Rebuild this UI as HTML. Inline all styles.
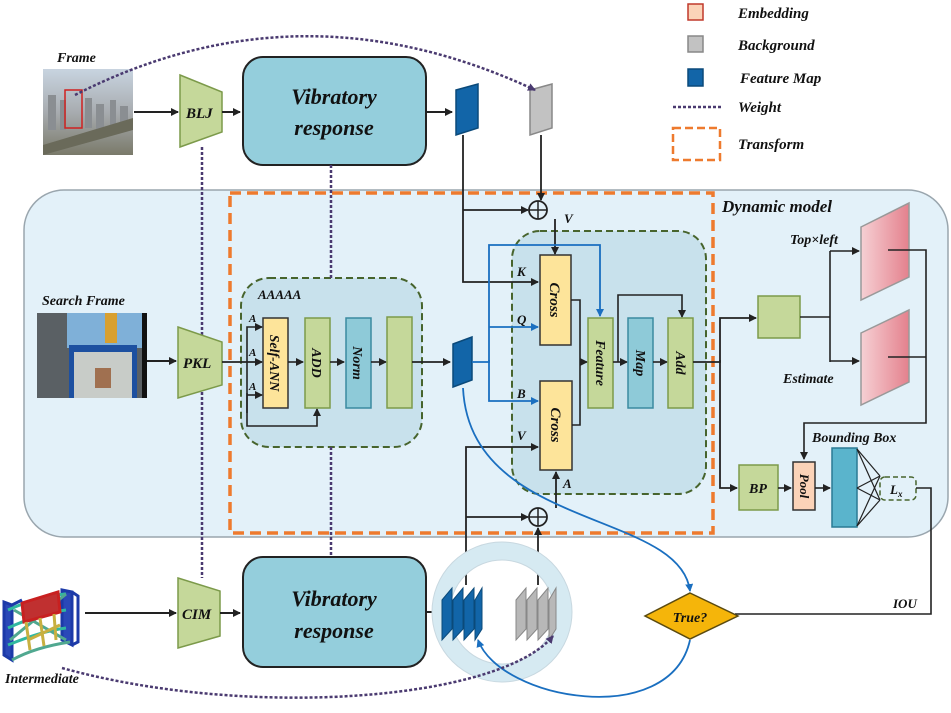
<!DOCTYPE html>
<html><head><meta charset="utf-8"><style>
html,body{margin:0;padding:0;background:#fff}
svg text{font-family:"Liberation Serif",serif;font-style:italic;font-weight:bold;fill:#111}
</style></head><body>
<svg width="951" height="708" viewBox="0 0 951 708" xmlns="http://www.w3.org/2000/svg">
<defs>
<marker id="a" markerWidth="8" markerHeight="8" refX="7" refY="4" orient="auto" markerUnits="userSpaceOnUse"><path d="M0,0 L8,4 L0,8 z" fill="#222"/></marker>
<marker id="b" markerWidth="8" markerHeight="8" refX="7" refY="4" orient="auto" markerUnits="userSpaceOnUse"><path d="M0,0 L8,4 L0,8 z" fill="#1a6fc0"/></marker>
<marker id="p" markerWidth="8" markerHeight="8" refX="7" refY="4" orient="auto" markerUnits="userSpaceOnUse"><path d="M0,0 L8,4 L0,8 z" fill="#4a3a70"/></marker>
<linearGradient id="pk" x1="0" x2="1"><stop offset="0" stop-color="#f6d0d4"/><stop offset="1" stop-color="#e4818d"/></linearGradient>
<linearGradient id="img1" x1="0" y1="0" x2="0" y2="1"><stop offset="0" stop-color="#c8d4e0"/><stop offset="0.5" stop-color="#a8acb0"/><stop offset="1" stop-color="#7a7a6a"/></linearGradient>
</defs>

<rect x="24" y="190" width="924" height="347" rx="40" fill="#e3f1f9" stroke="#9aa6ae" stroke-width="1.5"/>
<rect x="230" y="193" width="483" height="340" fill="none" stroke="#ee7a2e" stroke-width="3.5" stroke-dasharray="11,6"/>
<rect x="241" y="278" width="181" height="169" rx="28" fill="#c8e1ec" stroke="#47642d" stroke-width="2" stroke-dasharray="7,4"/>
<rect x="512" y="231" width="194" height="263" rx="28" fill="#c8e1ec" stroke="#47642d" stroke-width="2" stroke-dasharray="7,4"/>

<rect x="688" y="4" width="15" height="16" fill="#fbd3b8" stroke="#c0392b" stroke-width="1.5"/>
<text x="738" y="18" font-size="15">Embedding</text>
<rect x="688" y="36" width="15" height="16" fill="#c2c2c2" stroke="#888" stroke-width="1.5"/>
<text x="738" y="50" font-size="15">Background</text>
<rect x="688" y="69" width="15" height="17" fill="#1265a8" stroke="#0b4a7a" stroke-width="1.5"/>
<text x="740" y="83" font-size="15">Feature Map</text>
<line x1="673" y1="107" x2="722" y2="107" stroke="#4a3a70" stroke-width="2.5" stroke-dasharray="3,2"/>
<text x="738" y="112" font-size="15">Weight</text>
<rect x="673" y="128" width="47" height="32" fill="none" stroke="#ee7a2e" stroke-width="2.5" stroke-dasharray="8,4"/>
<text x="738" y="149" font-size="15">Transform</text>

<text x="57" y="62" font-size="14">Frame</text>
<rect x="43" y="69" width="90" height="86" fill="url(#img1)"/>
<g fill="#8a8e92"><rect x="48" y="95" width="8" height="35"/><rect x="60" y="100" width="6" height="30"/><rect x="85" y="98" width="7" height="30"/><rect x="96" y="104" width="8" height="26"/><rect x="110" y="100" width="6" height="30"/><rect x="120" y="106" width="8" height="24"/></g>
<polygon points="43,145 133,118 133,130 43,155" fill="#6a6a5a"/>
<rect x="65" y="90" width="17" height="38" fill="none" stroke="#d02020" stroke-width="1.5"/>
<line x1="134" y1="112" x2="178" y2="112" stroke="#222" stroke-width="2" marker-end="url(#a)"/>
<polygon points="180,75 222,92 222,132 180,147" fill="#c5d89a" stroke="#7c9a4a" stroke-width="1.5"/>
<text x="186" y="118" font-size="15">BLJ</text>
<line x1="222" y1="112" x2="240" y2="112" stroke="#222" stroke-width="2" marker-end="url(#a)"/>
<rect x="243" y="57" width="183" height="108" rx="20" fill="#94cedc" stroke="#222" stroke-width="2"/>
<text x="334" y="104" font-size="22" text-anchor="middle" font-weight="normal">Vibratory</text>
<text x="334" y="135" font-size="22" text-anchor="middle" font-weight="normal">response</text>
<line x1="426" y1="112" x2="452" y2="112" stroke="#222" stroke-width="2" marker-end="url(#a)"/>
<polygon points="456,90 478,84 478,128 456,135" fill="#1265a8" stroke="#0b4a7a" stroke-width="1.5"/>
<polygon points="530,90 552,84 552,128 530,135" fill="#c2c2c2" stroke="#888" stroke-width="1.5"/>
<path d="M75,95 Q300,-20 535,90" fill="none" stroke="#4a3a70" stroke-width="2.5" stroke-dasharray="3,2" marker-end="url(#p)"/>

<line x1="202" y1="147" x2="202" y2="578" stroke="#4a3a70" stroke-width="2.5" stroke-dasharray="3,2"/>
<line x1="331" y1="165" x2="331" y2="278" stroke="#4a3a70" stroke-width="2.5" stroke-dasharray="3,2"/>
<line x1="331" y1="447" x2="331" y2="557" stroke="#4a3a70" stroke-width="2.5" stroke-dasharray="3,2"/>

<polyline points="463,135 463,282 538,282" fill="none" stroke="#222" stroke-width="1.8" marker-end="url(#a)"/>
<line x1="463" y1="210" x2="528" y2="210" stroke="#222" stroke-width="1.8" marker-end="url(#a)"/>
<line x1="541" y1="135" x2="541" y2="200" stroke="#222" stroke-width="1.8" marker-end="url(#a)"/>
<circle cx="538" cy="210" r="9" fill="#e3f1f9" stroke="#222" stroke-width="1.8"/>
<line x1="529" y1="210" x2="547" y2="210" stroke="#222" stroke-width="1.5"/><line x1="538" y1="201" x2="538" y2="219" stroke="#222" stroke-width="1.5"/>
<line x1="555" y1="219" x2="555" y2="254" stroke="#222" stroke-width="1.8" marker-end="url(#a)"/>
<text x="564" y="223" font-size="13">V</text>

<text x="722" y="212" font-size="17">Dynamic model</text>

<text x="42" y="305" font-size="14">Search Frame</text>
<rect x="37" y="313" width="110" height="85" fill="#5a6064"/>
<rect x="67" y="313" width="75" height="35" fill="#7fb0d8"/>
<rect x="105" y="313" width="12" height="30" fill="#d8a030"/>
<rect x="69" y="345" width="68" height="53" fill="#1d50a0"/>
<rect x="74" y="352" width="58" height="46" fill="#c8ccc8"/>
<rect x="95" y="368" width="16" height="20" fill="#a07050"/>
<rect x="142" y="313" width="5" height="85" fill="#111"/>
<line x1="147" y1="361" x2="176" y2="361" stroke="#222" stroke-width="2" marker-end="url(#a)"/>
<polygon points="178,327 222,342 222,385 178,398" fill="#c5d89a" stroke="#7c9a4a" stroke-width="1.5"/>
<text x="183" y="368" font-size="15">PKL</text>
<line x1="222" y1="362" x2="262" y2="362" stroke="#222" stroke-width="1.8" marker-end="url(#a)"/>

<text x="258" y="299" font-size="13">AAAAA</text>
<polyline points="247,413 247,327 262,327" fill="none" stroke="#222" stroke-width="1.6" marker-end="url(#a)"/>
<line x1="247" y1="395" x2="262" y2="395" stroke="#222" stroke-width="1.6" marker-end="url(#a)"/>
<polyline points="247,393 247,426 317,426 317,409" fill="none" stroke="#222" stroke-width="1.6" marker-end="url(#a)"/>
<text x="249" y="322" font-size="11">A</text><text x="249" y="356" font-size="11">A</text><text x="249" y="390" font-size="11">A</text>
<rect x="263" y="318" width="25" height="90" fill="#fde49a" stroke="#333" stroke-width="1.5"/>
<text transform="translate(270,363) rotate(90)" font-size="14" text-anchor="middle">Self-ANN</text>
<line x1="288" y1="362" x2="303" y2="362" stroke="#222" stroke-width="1.6" marker-end="url(#a)"/>
<rect x="305" y="318" width="25" height="90" fill="#c5d89a" stroke="#7c9a4a" stroke-width="1.5"/>
<text transform="translate(312,363) rotate(90)" font-size="14" text-anchor="middle">ADD</text>
<line x1="330" y1="362" x2="344" y2="362" stroke="#222" stroke-width="1.6" marker-end="url(#a)"/>
<rect x="346" y="318" width="25" height="90" fill="#8ecad8" stroke="#3a8aa0" stroke-width="1.5"/>
<text transform="translate(353,363) rotate(90)" font-size="14" text-anchor="middle">Norm</text>
<line x1="371" y1="362" x2="386" y2="362" stroke="#222" stroke-width="1.6" marker-end="url(#a)"/>
<rect x="387" y="317" width="25" height="91" fill="#c5d89a" stroke="#7c9a4a" stroke-width="1.5"/>
<line x1="412" y1="362" x2="450" y2="362" stroke="#222" stroke-width="1.8" marker-end="url(#a)"/>
<polygon points="453,344 472,337 472,380 453,387" fill="#1265a8" stroke="#0b4a7a" stroke-width="1.5"/>

<polyline points="472,362 489,362 489,245 600,245 600,316" fill="none" stroke="#1a6fc0" stroke-width="1.8" marker-end="url(#b)"/>
<line x1="489" y1="327" x2="538" y2="327" stroke="#1a6fc0" stroke-width="1.8" marker-end="url(#b)"/>
<polyline points="489,360 489,401 538,401" fill="none" stroke="#1a6fc0" stroke-width="1.8" marker-end="url(#b)"/>
<text x="517" y="276" font-size="13">K</text><text x="517" y="324" font-size="13">Q</text><text x="517" y="398" font-size="13">B</text><text x="517" y="440" font-size="13">V</text><text x="563" y="488" font-size="13">A</text>

<rect x="540" y="255" width="31" height="90" fill="#fde49a" stroke="#333" stroke-width="1.5"/>
<text transform="translate(550,300) rotate(90)" font-size="15" text-anchor="middle" font-weight="normal">Cross</text>
<rect x="540" y="381" width="32" height="89" fill="#fde49a" stroke="#333" stroke-width="1.5"/>
<text transform="translate(551,425) rotate(90)" font-size="15" text-anchor="middle" font-weight="normal">Cross</text>
<polyline points="571,300 580,300 580,425 572,425" fill="none" stroke="#222" stroke-width="1.6"/>
<line x1="580" y1="362" x2="587" y2="362" stroke="#222" stroke-width="1.6" marker-end="url(#a)"/>
<rect x="588" y="318" width="25" height="90" fill="#c5d89a" stroke="#7c9a4a" stroke-width="1.5"/>
<text transform="translate(596,363) rotate(90)" font-size="14" text-anchor="middle">Feature</text>
<line x1="613" y1="362" x2="627" y2="362" stroke="#222" stroke-width="1.6" marker-end="url(#a)"/>
<polyline points="618,362 618,295 682,295 682,317" fill="none" stroke="#222" stroke-width="1.6" marker-end="url(#a)"/>
<rect x="628" y="318" width="25" height="90" fill="#8ecad8" stroke="#3a8aa0" stroke-width="1.5"/>
<text transform="translate(636,363) rotate(90)" font-size="14" text-anchor="middle">Map</text>
<line x1="653" y1="362" x2="667" y2="362" stroke="#222" stroke-width="1.6" marker-end="url(#a)"/>
<rect x="668" y="318" width="25" height="90" fill="#c5d89a" stroke="#7c9a4a" stroke-width="1.5"/>
<text transform="translate(676,363) rotate(90)" font-size="14" text-anchor="middle">Add</text>

<polyline points="466,585 466,447 538,447" fill="none" stroke="#222" stroke-width="1.8" marker-end="url(#a)"/>
<line x1="466" y1="517" x2="528" y2="517" stroke="#222" stroke-width="1.8" marker-end="url(#a)"/>
<line x1="538" y1="585" x2="538" y2="528" stroke="#222" stroke-width="1.8" marker-end="url(#a)"/>
<circle cx="538" cy="517" r="9" fill="#e3f1f9" stroke="#222" stroke-width="1.8"/>
<line x1="529" y1="517" x2="547" y2="517" stroke="#222" stroke-width="1.5"/><line x1="538" y1="508" x2="538" y2="526" stroke="#222" stroke-width="1.5"/>
<line x1="556" y1="508" x2="556" y2="472" stroke="#222" stroke-width="1.8" marker-end="url(#a)"/>

<polyline points="693,362 720,362 720,318 756,318" fill="none" stroke="#222" stroke-width="1.8" marker-end="url(#a)"/>
<polyline points="720,360 720,488 737,488" fill="none" stroke="#222" stroke-width="1.8" marker-end="url(#a)"/>
<rect x="758" y="296" width="42" height="42" fill="#c5d89a" stroke="#7c9a4a" stroke-width="1.5"/>
<line x1="800" y1="317" x2="830" y2="317" stroke="#222" stroke-width="1.6"/>
<polyline points="830,251 830,362" fill="none" stroke="#222" stroke-width="1.6"/>
<line x1="830" y1="251" x2="859" y2="251" stroke="#222" stroke-width="1.6" marker-end="url(#a)"/>
<line x1="830" y1="361" x2="859" y2="361" stroke="#222" stroke-width="1.6" marker-end="url(#a)"/>
<polygon points="861,227 909,203 909,277 861,300" fill="url(#pk)" stroke="#999" stroke-width="1.5"/>
<polygon points="861,333 909,310 909,382 861,405" fill="url(#pk)" stroke="#999" stroke-width="1.5"/>
<text x="790" y="244" font-size="14">Top×left</text>
<text x="783" y="383" font-size="14">Estimate</text>
<polyline points="888,250 926,250 926,423 804,423 804,459" fill="none" stroke="#222" stroke-width="1.6" marker-end="url(#a)"/>
<line x1="888" y1="357" x2="926" y2="357" stroke="#222" stroke-width="1.6"/>
<text x="812" y="442" font-size="14">Bounding Box</text>
<rect x="739" y="465" width="39" height="45" fill="#c5d89a" stroke="#7c9a4a" stroke-width="1.5"/>
<text x="758" y="493" font-size="14" text-anchor="middle">BP</text>
<line x1="778" y1="488" x2="791" y2="488" stroke="#222" stroke-width="1.6" marker-end="url(#a)"/>
<rect x="793" y="462" width="22" height="48" fill="#fbd3b8" stroke="#333" stroke-width="1.5"/>
<text transform="translate(800,486) rotate(90)" font-size="13" text-anchor="middle">Pool</text>
<line x1="815" y1="488" x2="830" y2="488" stroke="#222" stroke-width="1.6" marker-end="url(#a)"/>
<rect x="832" y="448" width="25" height="79" fill="#5ab4cc" stroke="#2a7a94" stroke-width="1.5"/>
<g stroke="#222" stroke-width="1.2"><line x1="857" y1="449" x2="880" y2="476"/><line x1="857" y1="449" x2="880" y2="500"/><line x1="857" y1="488" x2="880" y2="476"/><line x1="857" y1="488" x2="880" y2="500"/><line x1="857" y1="526" x2="880" y2="476"/><line x1="857" y1="526" x2="880" y2="500"/></g>
<rect x="880" y="477" width="36" height="23" rx="5" fill="#e3f1f9" stroke="#47642d" stroke-width="1.5" stroke-dasharray="5,3"/>
<text x="890" y="494" font-size="13" font-weight="normal">L<tspan font-size="9" dy="3">x</tspan></text>
<polyline points="916,488 931,488 931,614 735,614" fill="none" stroke="#222" stroke-width="1.6"/>
<text x="893" y="608" font-size="13">IOU</text>

<!-- intermediate structure -->
<g fill="none" stroke-width="3">
<path d="M4,602 L4,655 L12,660 L12,605 z" stroke="#1c3aa8" fill="#2a48b8"/>
<path d="M62,590 L62,640 L72,645 L72,592 z" stroke="#1c3aa8" fill="#2a48b8"/>
<path d="M8,610 C30,600 50,595 66,594 M8,628 C30,618 50,612 66,610 M8,645 C30,636 50,630 66,628" stroke="#30b8a0"/>
<path d="M12,660 C30,650 50,645 70,642 M10,640 L66,594 M14,610 L66,640" stroke="#50a890"/>
<path d="M22,603 L58,592 L60,612 L24,622 z" stroke="#c82020" fill="#c03030"/>
<path d="M26,622 L30,650 M40,618 L44,646 M54,614 L56,640 M28,640 L60,625" stroke="#c8b040"/>
<path d="M12,605 L22,600 M72,592 L78,596 L78,642 L72,645" stroke="#1c3aa8"/>
</g>
<text x="5" y="683" font-size="14">Intermediate</text>
<line x1="85" y1="613" x2="176" y2="613" stroke="#222" stroke-width="2" marker-end="url(#a)"/>
<polygon points="178,578 220,591 220,636 178,648" fill="#c5d89a" stroke="#7c9a4a" stroke-width="1.5"/>
<text x="182" y="619" font-size="15" font-weight="normal">CIM</text>
<line x1="220" y1="613" x2="240" y2="613" stroke="#222" stroke-width="2" marker-end="url(#a)"/>
<rect x="243" y="557" width="183" height="110" rx="20" fill="#94cedc" stroke="#222" stroke-width="2"/>
<text x="334" y="606" font-size="22" text-anchor="middle" font-weight="normal">Vibratory</text>
<text x="334" y="638" font-size="22" text-anchor="middle" font-weight="normal">response</text>
<line x1="426" y1="612" x2="440" y2="612" stroke="#222" stroke-width="2" marker-end="url(#a)"/>
<circle cx="502" cy="612" r="61" fill="none" stroke="#d6eaf2" stroke-width="18"/>
<circle cx="502" cy="612" r="70" fill="none" stroke="#c8d8e0" stroke-width="1"/>
<circle cx="502" cy="612" r="52" fill="none" stroke="#c8d8e0" stroke-width="1"/>
<g fill="#1265a8" stroke="#0b4a7a" stroke-width="1">
<polygon points="442,600 452,588 452,629 442,640"/><polygon points="453,600 463,588 463,629 453,640"/><polygon points="464,600 474,588 474,629 464,640"/><polygon points="475,600 482,588 482,629 475,640"/>
</g>
<g fill="#b8b8b8" stroke="#888" stroke-width="1">
<polygon points="516,600 526,588 526,629 516,640"/><polygon points="527,600 537,588 537,629 527,640"/><polygon points="538,600 548,588 548,629 538,640"/><polygon points="549,600 556,588 556,629 549,640"/>
</g>
<polygon points="690,593 738,616 690,639 645,616" fill="#f5b50a" stroke="#5a4a10" stroke-width="1.5"/>
<text x="690" y="622" font-size="14" text-anchor="middle" font-weight="normal">True?</text>

<path d="M463,388 C470,530 680,510 690,591" fill="none" stroke="#1a6fc0" stroke-width="1.8" marker-end="url(#b)"/>
<path d="M690,640 C670,730 500,700 478,640" fill="none" stroke="#1a6fc0" stroke-width="1.8" marker-end="url(#b)"/>
<path d="M62,668 C250,720 500,700 553,636" fill="none" stroke="#4a3a70" stroke-width="2.5" stroke-dasharray="3,2" marker-end="url(#p)"/>
</svg>
</body></html>
